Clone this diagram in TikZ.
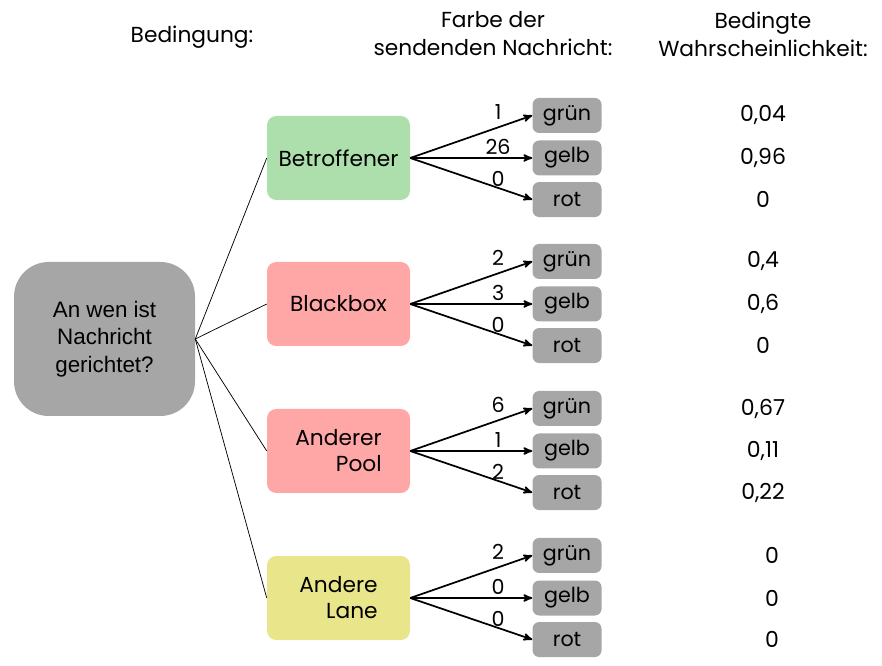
\documentclass[tikz,border=0pt]{standalone}
\usepackage{fontspec}
\setmainfont{Poppins}
\newfontfamily\rootfont{Liberation Sans}
\usetikzlibrary{positioning}
\usetikzlibrary{arrows}
\definecolor{boxgray}{RGB}{166,166,166}
\definecolor{boxgreen}{RGB}{173,223,173}
\definecolor{boxpink}{RGB}{255,166,166}
\definecolor{boxyellow}{RGB}{232,229,138}
\tikzset{
q/.style={
  rounded corners=26pt,
  fill=boxgray,
  minimum width=135.75pt,
  minimum height=115.5pt,
  align=center,
  font=\rootfont\fontsize{16.8}{20.6}\selectfont
  },
cond/.style={
  rounded corners=7pt,
  minimum width=107.25pt,
  minimum height=63pt,
  font=\fontsize{16.3}{19.5}\selectfont
  },
leaf/.style={
  rounded corners=5pt,
  fill=boxgray,
  inner sep=0pt,
  minimum width=51.75pt,
  minimum height=26.25pt,
  font=\fontsize{15.5}{17}\selectfont
  },
head/.style={align=center,font=\fontsize{16.3}{21}\selectfont},
prob/.style={font=\fontsize{16.5}{17}\selectfont},
arr/.style={->,line width=1.3pt},
lbl/.style={pos=.72,inner sep=0.5pt,font=\fontsize{15.5}{17}\selectfont},
conn/.style={line width=0.55pt}
}

\begin{document}
\begin{tikzpicture}[x=0.75pt,y=-0.75pt,>=stealth',node distance=5.25pt]
  \useasboundingbox (0,0) rectangle (882,666);
  % headers
  \node[head] (hb) at (192,37) {Bedingung:};
  \node[head] (hf) at (493,34) {Farbe der\\sendenden Nachricht:};
  \node[head] (hw) at (763,34) {Bedingte\\Wahrscheinlichkeit:};
  % root and conditions
  \node[q] (r) at (104.5,339) {An wen ist\\Nachricht\\gerichtet?};
  \node[cond,fill=boxgreen] (b) at (338.5,158) {Betroffener};
  \node[cond,fill=boxpink] (k) at (338.5,304) {Blackbox};
  \node[cond,fill=boxpink,align=right] (p) at (338.5,451) {Anderer\\Pool};
  \node[cond,fill=boxyellow,align=right] (l) at (338.5,598) {Andere\\Lane};
  \path[conn]
  (r.east) edge (b.west)
  (r.east) edge (k.west)
  (r.east) edge (p.west)
  (r.east) edge (l.west)
  ;
  % leaves
  \node[leaf] (b2) [right=91.5pt of b] {gelb};
  \node[leaf] (b1) [above=of b2] {grün};
  \node[leaf] (b3) [below=4.5pt of b2] {rot};
  \node[leaf] (k2) [right=91.5pt of k] {gelb};
  \node[leaf] (k1) [above=of k2] {grün};
  \node[leaf] (k3) [below=4.5pt of k2] {rot};
  \node[leaf] (p2) [right=91.5pt of p] {gelb};
  \node[leaf] (p1) [above=of p2] {grün};
  \node[leaf] (p3) [below=4.5pt of p2] {rot};
  \node[leaf] (l2) [right=91.5pt of l] {gelb};
  \node[leaf] (l1) [above=of l2] {grün};
  \node[leaf] (l3) [below=4.5pt of l2] {rot};
  \path[arr]
  (b.east) edge node[lbl,above=5pt] {1} (b1.west)
  (b.east) edge node[lbl,above=1.5pt] {26} (b2.west)
  (b.east) edge node[lbl,above=0pt] {0} (b3.west)
  (k.east) edge node[lbl,above=5pt] {2} (k1.west)
  (k.east) edge node[lbl,above=1.5pt] {3} (k2.west)
  (k.east) edge node[lbl,above=0pt] {0} (k3.west)
  (p.east) edge node[lbl,above=5pt] {6} (p1.west)
  (p.east) edge node[lbl,above=1.5pt] {1} (p2.west)
  (p.east) edge node[lbl,above=0pt] {2} (p3.west)
  (l.east) edge node[lbl,above=5pt] {2} (l1.west)
  (l.east) edge node[lbl,above=1.5pt] {0} (l2.west)
  (l.east) edge node[lbl,above=0pt] {0} (l3.west)
  ;
  % probabilities
  \node[prob] (wb1) at (763,0 |- b1) {0,04};
  \node[prob] (wb2) at (763,0 |- b2) {0,96};
  \node[prob] (wb3) at (763,0 |- b3) {0};
  \node[prob] (wk1) at (763,0 |- k1) {0,4};
  \node[prob] (wk2) at (763,0 |- k2) {0,6};
  \node[prob] (wk3) at (763,0 |- k3) {0};
  \node[prob] (wp1) at (763,0 |- p1) {0,67};
  \node[prob] (wp2) at (763,0 |- p2) {0,11};
  \node[prob] (wp3) at (763,0 |- p3) {0,22};
  \node[prob] (wl1) at (772,0 |- l1) {0};
  \node[prob] (wl2) at (772,0 |- l2) {0};
  \node[prob] (wl3) at (772,0 |- l3) {0};
\end{tikzpicture}
\end{document}
